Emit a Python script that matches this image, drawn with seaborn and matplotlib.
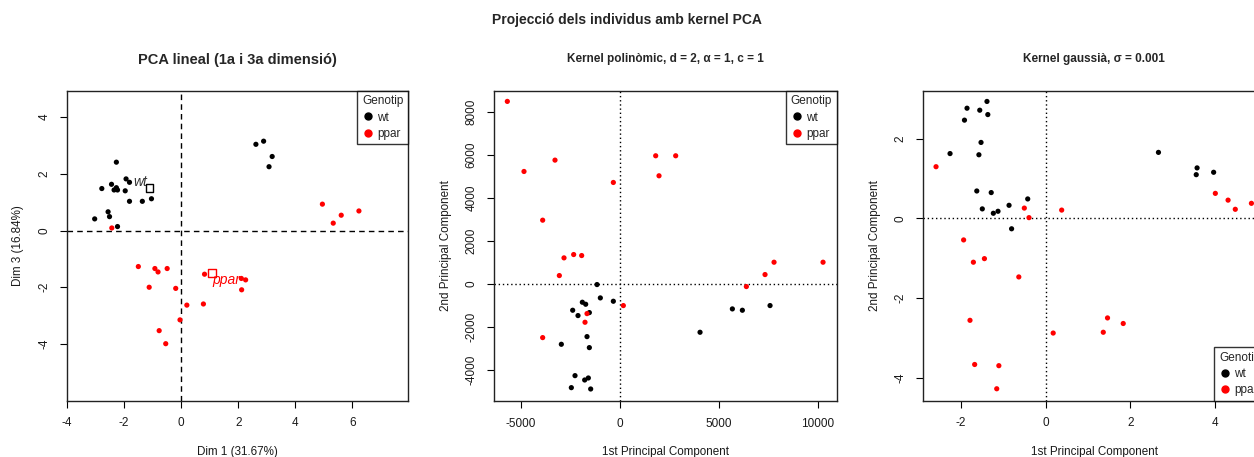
import numpy as np
import pandas as pd
import matplotlib
matplotlib.use("Agg")
import matplotlib.pyplot as plt
import seaborn as sns

genotypes = ["wt", "ppar"]
palette = {"wt": "black", "ppar": "red"}

# Linear PCA, dimensions 1 and 3
lin_wt_x = [-2.27, -1.93, -1.81, -2.78, -2.44, -2.35, -2.27, -2.23, -1.96, -1.81,
            -1.36, -1.04, -2.56, -2.51, -3.03, -2.23, 2.62, 2.89, 3.19, 3.08]
lin_wt_y = [2.41, 1.82, 1.70, 1.48, 1.63, 1.43, 1.51, 1.43, 1.40, 1.03,
            1.03, 1.12, 0.66, 0.49, 0.41, 0.14, 3.04, 3.15, 2.61, 2.25]
lin_ppar_x = [-2.43, -1.50, -0.92, -0.81, -0.49, -1.12, -0.19, 0.82, 0.20, 0.78,
              2.11, 2.26, 2.12, -0.04, -0.77, -0.54, 4.95, 5.33, 5.61, 6.23]
lin_ppar_y = [0.09, -1.27, -1.34, -1.46, -1.34, -2.00, -2.04, -1.54, -2.63, -2.59,
              -1.69, -1.74, -2.09, -3.15, -3.53, -3.99, 0.93, 0.26, 0.54, 0.69]
lin_centroid_x = [-1.11, 1.09]
lin_centroid_y = [1.51, -1.50]

# Polynomial kernel PCA
poly_wt_x = [-1162, -994, -337, -1903, -1734, -1549, -2391, -2122, -1667, -1549,
             -2964, -2273, -1785, -1600, -2459, -1482, 4042, 5675, 6180, 7578]
poly_wt_y = [-31, -651, -806, -852, -945, -1333, -1224, -1472, -2449, -2960,
             -2805, -4262, -4464, -4371, -4820, -4882, -2247, -1162, -1224, -1007]
poly_ppar_x = [-5692, -4850, -3284, -3907, -2829, -2341, -1937, -3065, -337, 1802,
               1970, 2812, 168, -1667, -1768, -3907, 6382, 7325, 7780, 10255]
poly_ppar_y = [8478, 5223, 5750, 2960, 1209, 1364, 1317, 387, 4712, 5952,
               5022, 5952, -1007, -1380, -1782, -2495, -124, 434, 1007, 1007]

# Gaussian kernel PCA
gauss_wt_x = [-1.85, -1.91, -1.55, -1.38, -1.36, -1.52, -1.57, -2.25, -1.62, -1.28,
              -1.49, -1.23, -1.12, -0.86, -0.42, -0.80, 2.66, 3.57, 3.55, 3.96]
gauss_wt_y = [2.77, 2.47, 2.72, 2.94, 2.61, 1.91, 1.60, 1.63, 0.69, 0.65,
              0.24, 0.13, 0.18, 0.33, 0.49, -0.26, 1.66, 1.27, 1.10, 1.16]
gauss_ppar_x = [-2.58, -0.50, -0.39, 0.38, -1.93, -1.70, -1.44, -0.63, -1.78, -1.67,
                -1.10, -1.15, 0.18, 1.36, 1.46, 1.83, 4.00, 4.30, 4.47, 4.85]
gauss_ppar_y = [1.30, 0.26, 0.02, 0.21, -0.54, -1.10, -1.01, -1.47, -2.56, -3.67,
                -3.70, -4.28, -2.88, -2.86, -2.50, -2.64, 0.63, 0.46, 0.23, 0.38]


def frame(wt_x, wt_y, ppar_x, ppar_y):
    return pd.DataFrame({
        "x": list(wt_x) + list(ppar_x),
        "y": list(wt_y) + list(ppar_y),
        "Genotip": ["wt"] * len(wt_x) + ["ppar"] * len(ppar_x),
    })


sns.set_theme(style="white")
plt.rcParams["font.family"] = ["Liberation Sans", "DejaVu Sans"]
plt.rcParams["axes.edgecolor"] = "black"
plt.rcParams["axes.linewidth"] = 1.0

W, H = 1254, 457
fig = plt.figure(figsize=(W / 100, H / 100), dpi=100)


def add_panel(left, right, top=90.7, bottom=400.7):
    return fig.add_axes([left / W, (H - bottom) / H, (right - left) / W, (bottom - top) / H])


def style(ax, xlabel, ylabel, xticks, yticks):
    ax.set_xticks(xticks)
    ax.set_yticks(yticks)
    ax.set_xticklabels([str(t) for t in xticks])
    ax.set_yticklabels([str(t) for t in yticks], rotation=90, va="center")
    ax.tick_params(axis="both", direction="out", length=5, width=0.8,
                   color="black", labelsize=8.5, pad=7, labelcolor="#1a1a1a")
    ax.tick_params(axis="x", bottom=True)
    ax.tick_params(axis="y", left=True)
    ax.set_xlabel(xlabel, fontsize=8.4, labelpad=12, color="#1a1a1a")
    ax.set_ylabel(ylabel, fontsize=8.4, labelpad=10, color="#1a1a1a")
    for s in ax.spines.values():
        s.set_visible(True)
        s.set_color("#222222")
        s.set_linewidth(1.0)


def legend(ax, loc):
    handles = [plt.Line2D([], [], marker="o", linestyle="", color=palette[g],
                          markersize=5) for g in genotypes]
    leg = ax.legend(handles, genotypes, title="Genotip", loc=loc, borderaxespad=0,
                    fontsize=8.5, title_fontsize=8.5, frameon=True, fancybox=False,
                    handletextpad=0.3, handlelength=1.0, borderpad=0.4,
                    labelspacing=0.35, alignment="left")
    leg.get_frame().set_edgecolor("black")
    leg.get_frame().set_linewidth(1.0)


def scatter(ax, df):
    sns.scatterplot(data=df, x="x", y="y", hue="Genotip", hue_order=genotypes,
                    palette=palette, s=14, linewidth=0, ax=ax, legend=False, zorder=3)


# Panel 1: linear PCA
ax1 = add_panel(67, 408)
scatter(ax1, frame(lin_wt_x, lin_wt_y, lin_ppar_x, lin_ppar_y))
ax1.axhline(0, color="black", linestyle=(0, (4, 3)), linewidth=1.0, zorder=1)
ax1.axvline(0, color="black", linestyle=(0, (4, 3)), linewidth=1.0, zorder=1)
for g, cx, cy in zip(genotypes, lin_centroid_x, lin_centroid_y):
    ax1.scatter([cx], [cy], marker="s", s=30, facecolors="none",
                edgecolors=palette[g], linewidths=1.0, zorder=4)
ax1.text(lin_centroid_x[0] - 0.08, lin_centroid_y[0] + 0.19, "wt", style="italic",
         fontsize=10, color="#333333", ha="right", va="center")
ax1.text(lin_centroid_x[1] + 0.02, lin_centroid_y[1] - 0.24, "ppar", style="italic",
         fontsize=10, color="red", ha="left", va="center")
ax1.set_xlim(-4.0, 7.95)
ax1.set_ylim(-6.0, 4.93)
style(ax1, "Dim 1 (31.67%)", "Dim 3 (16.84%)", [-4, -2, 0, 2, 4, 6], [-4, -2, 0, 2, 4])
legend(ax1, "upper right")
ax1.set_title("PCA lineal (1a i 3a dimensió)", fontsize=10.5, fontweight="bold", pad=19)

# Panel 2: polynomial kernel
ax2 = add_panel(494.3, 836.7, bottom=401)
scatter(ax2, frame(poly_wt_x, poly_wt_y, poly_ppar_x, poly_ppar_y))
ax2.axhline(0, color="black", linestyle=(0, (1, 2)), linewidth=1.0, zorder=1)
ax2.axvline(0, color="black", linestyle=(0, (1, 2)), linewidth=1.0, zorder=1)
ax2.set_xlim(-6350, 10945)
ax2.set_ylim(-5440, 8975)
style(ax2, "1st Principal Component", "2nd Principal Component",
      [-5000, 0, 5000, 10000], [-4000, -2000, 0, 2000, 4000, 6000, 8000])
legend(ax2, "upper right")
ax2.set_title("Kernel polinòmic, d = 2, α = 1, c = 1", fontsize=8.5,
              fontweight="bold", pad=21)

# Panel 3: gaussian kernel
ax3 = add_panel(923.3, 1265)
scatter(ax3, frame(gauss_wt_x, gauss_wt_y, gauss_ppar_x, gauss_ppar_y))
ax3.axhline(0, color="black", linestyle=(0, (1, 2)), linewidth=1.0, zorder=1)
ax3.axvline(0, color="black", linestyle=(0, (1, 2)), linewidth=1.0, zorder=1)
ax3.set_xlim(-2.88, 5.17)
ax3.set_ylim(-4.58, 3.21)
style(ax3, "1st Principal Component", "2nd Principal Component",
      [-2, 0, 2, 4], [-4, -2, 0, 2])
legend(ax3, "lower right")
ax3.set_title("Kernel gaussià, σ = 0.001", fontsize=8.5, fontweight="bold", pad=21)

fig.suptitle("Projecció dels individus amb kernel PCA", fontsize=10,
             fontweight="bold", y=1 - 20 / H, va="center")

fig.savefig("out.png", dpi=100, facecolor="white")
